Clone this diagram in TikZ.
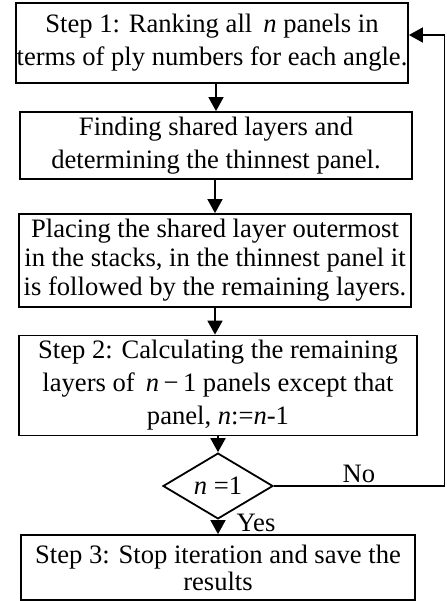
\documentclass[tikz,border=0pt]{standalone}
\usepackage{fontspec}
\setmainfont{Liberation Serif}
\usetikzlibrary{arrows.meta,shapes.geometric}

\begin{document}
\begin{tikzpicture}[x=0.5pt, y=-0.5pt, line width=0.9pt,
  stepbox/.style={draw, align=center, inner sep=0pt, font=\fontsize{13.3}{16.5}\selectfont},
  flow/.style={-{Triangle[length=7pt,width=7.5pt]}}]
  \useasboundingbox (0,0) rectangle (446,601);
  \node[stepbox, minimum width=196pt, minimum height=40pt] (s1) at (212,43)
    {Step 1: Ranking all \,\textit{n} panels in\\terms of ply numbers for each angle.};
  \node[stepbox, minimum width=196pt, minimum height=33.5pt] (s2) at (216,145.5)
    {Finding shared layers and\\determining the thinnest panel.};
  \node[stepbox, minimum width=196pt, minimum height=46.5pt,
        font=\fontsize{13.3}{14.5}\selectfont] (s3) at (215,260.5)
    {Placing the shared layer outermost\\in the stacks, in the thinnest panel it\\is followed by the remaining layers.};
  \node[stepbox, minimum width=199pt, minimum height=50pt] (s4) at (218,385.5)
    {Step 2: Calculating the remaining\\layers of \,\textit{n}\,−\,1 panels except that\\panel, \textit{n}:=\textit{n}-1};
  \node[draw, diamond, inner sep=0pt, minimum width=55pt, minimum height=24.5pt,
        font=\fontsize{13.3}{16}\selectfont] (test) at (218,486) {\textit{n} =1};
  \node[stepbox, minimum width=197pt, minimum height=32.5pt,
        font=\fontsize{13.3}{13.5}\selectfont] (s5) at (218,567.5)
    {Step 3: Stop iteration and save the\\results};
  % main flow
  \draw[flow] (s2.north |- s1.south) -- (s2.north);
  \draw[flow] (s3.north |- s2.south) -- (s3.north);
  \draw[flow] (s3.south) -- (s3.south |- s4.north);
  \draw[flow] (test.north |- s4.south) -- (test.north);
  \draw[flow] (test.south) -- (test.south |- s5.north);
  % loop back
  \coordinate (back) at (444.5,35);
  \draw[flow] (test.east) -| (back) -- (s1.east |- back);
  \node[font=\fontsize{13.3}{16}\selectfont] (no) at (359,474) {No};
  \node[font=\fontsize{13.3}{16}\selectfont] (yes) at (256,523) {Yes};
\end{tikzpicture}
\end{document}
